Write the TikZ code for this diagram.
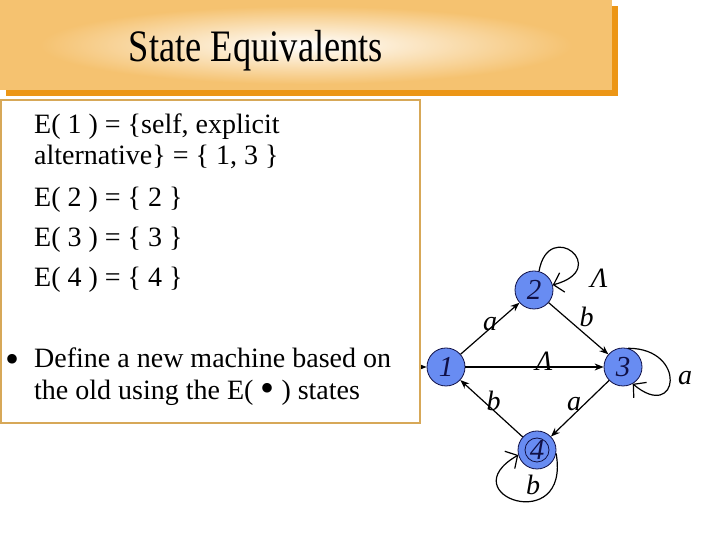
\documentclass[tikz,border=0pt]{standalone}
\usepackage{fontspec}
\setmainfont{Liberation Serif}
\newfontfamily\titlefont[FakeStretch=0.81]{Liberation Serif}
\usetikzlibrary{arrows.meta, positioning}
\definecolor{bannerLight}{RGB}{245,194,112}
\definecolor{bannerDark}{RGB}{236,150,22}
\definecolor{boxGold}{RGB}{215,168,88}
\definecolor{stateBlue}{RGB}{104,140,242}
\definecolor{stateInk}{RGB}{16,16,70}
\newcommand{\bigdot}{{\fontsize{40}{30}\selectfont\textbullet}}
\tikzset{
    x=1pt, y=1pt,
    % Text
    titleText/.style={font=\titlefont\fontsize{45}{50}\selectfont, inner sep=0pt, anchor=base},
    bodyText/.style={font=\fontsize{28}{32}\selectfont, anchor=base west, inner sep=0pt},
    % States
    state/.style={circle, draw=stateInk, line width=0.8pt, fill=stateBlue, minimum size=38pt,
                  inner sep=0pt, font=\itshape\fontsize{29}{30}\selectfont, text=stateInk},
    % Flow & Labels
    flow/.style={-{Stealth[length=9pt,width=7pt]}, line width=1.2pt},
    selfloop/.style={-{Straight Barb[length=9pt,width=20pt]}, line width=1.2pt},
    lbl/.style={font=\itshape\fontsize{28}{30}\selectfont, inner sep=1pt}
}

\begin{document}
\begin{tikzpicture}
\useasboundingbox (0,0) rectangle (720,540);

% Banner
\fill[bannerDark] (6,444) rectangle (618,534);
\fill[bannerLight] (0,450) rectangle (612,540);
\shade[inner color=white, outer color=bannerLight] (40,456) rectangle (572,534);
\node[titleText] (title) at (256,478) {State Equivalents};

% Start arrow, mostly under the text box
\coordinate (start) at (395,173);
\node[state] (n1) at (446,173) {1};
\draw[flow] (start) -- (n1);

% Text box
\draw[boxGold, line width=1.5pt, fill=white] (1,117) rectangle (420,440);
\node[bodyText] (eq1a) at (34,406) {E( 1 ) = \{self, explicit};
\node[bodyText] (eq1b) at (34,375) {alternative\} = \{ 1, 3 \}};
\node[bodyText] (eq2) at (34,333) {E( 2 ) = \{ 2 \}};
\node[bodyText] (eq3) at (34,293) {E( 3 ) = \{ 3 \}};
\node[bodyText] (eq4) at (34,253) {E( 4 ) = \{ 4 \}};
\node[bodyText] (dot) at (5,167) {\bigdot};
\node[bodyText] (def1) at (34,172) {Define a new machine based on};
\node[bodyText] (def2) at (34,140) {the old using the E( \raisebox{-2pt}{\bigdot} ) states};

% States
\node[state, on grid, above right=77pt and 88pt of n1] (n2) {2};
\node[state, on grid, right=177pt of n1] (n3) {3};
\node[state, on grid, below right=83pt and 91pt of n1] (n4) {4};
\draw[stateInk, line width=0.8pt] (n4.center) circle (12pt);

\draw[flow] (n1) -- node[lbl, yshift=4pt] {a} (n2);
\draw[flow] (n2) -- node[lbl, xshift=8pt, yshift=12pt] {b} (n3);
\draw[flow] (n1) -- node[lbl, pos=0.57, above, yshift=-5pt] {Λ} (n3);
\draw[flow] (n3) -- node[lbl, xshift=-6pt, yshift=4pt] {a} (n4);
\draw[flow] (n4) -- node[lbl, xshift=2pt, yshift=8pt] {b} (n1);

\draw[selfloop] (n2.75) .. controls +(80:55) and +(15:62) .. (n2.15);
\draw[selfloop] (n3.75) .. controls +(0:60) and +(-40:60) .. (n3.-60);
\draw[selfloop] (n4.-10) .. controls +(-80:85) and +(-150:80) .. (n4.195);
\node[lbl] (lam2) at (599,262) {Λ};
\node[lbl] (a3) at (685,162) {a};
\node[lbl] (b4) at (533,55) {b};

\end{tikzpicture}
\end{document}
